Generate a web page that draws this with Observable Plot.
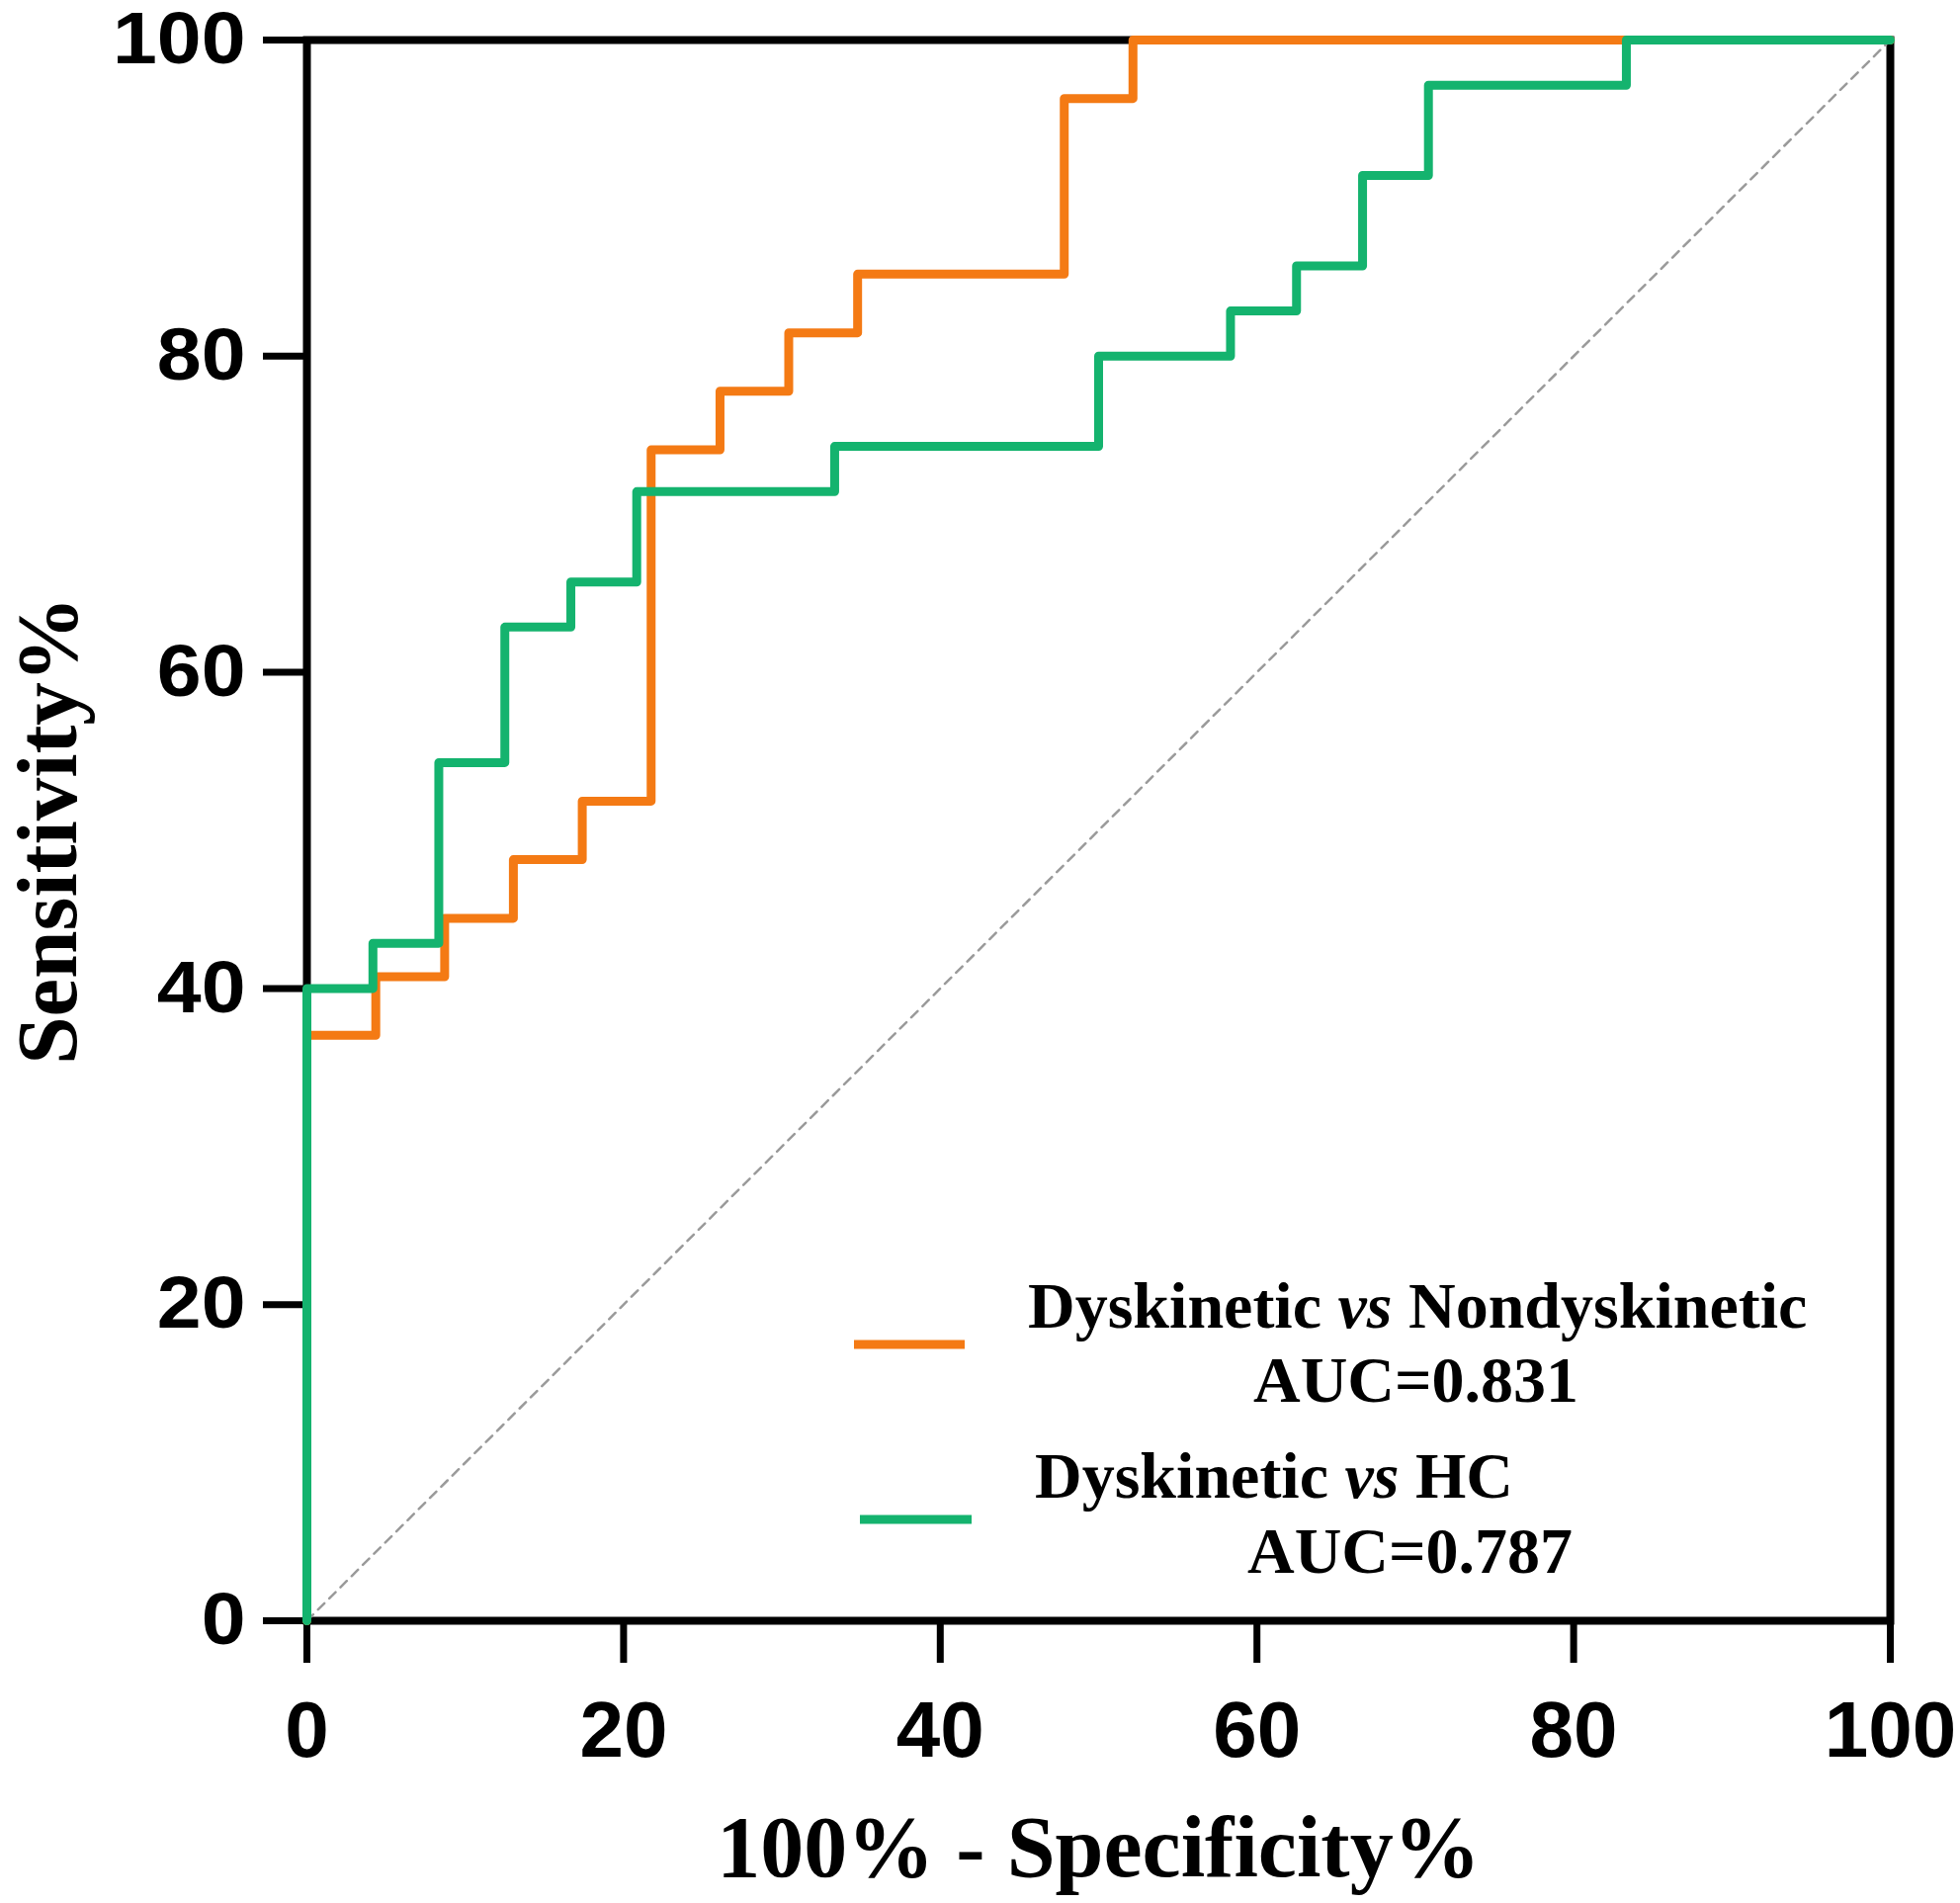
<!DOCTYPE html>
<html>
<head>
<meta charset="utf-8">
<script src="https://cdn.jsdelivr.net/npm/d3@7"></script>
<script src="https://cdn.jsdelivr.net/npm/@observablehq/plot@0.6"></script>
<style>
  html, body { margin: 0; padding: 0; background: #fff; }
  #chart svg { display: block; }
</style>
</head>
<body>
<div id="chart"></div>
<script>
// ---- Data ----
// Dyskinetic vs Nondyskinetic ROC (step-after vertices)
const orangeFpr = [0, 0, 4.35, 8.70, 13.04, 17.39, 21.74, 26.09, 30.43, 34.78, 47.83, 52.17, 100];
const orangeTpr = [0, 37.04, 40.74, 44.44, 48.15, 51.85, 74.07, 77.78, 81.48, 85.19, 96.30, 100, 100];
// Dyskinetic vs HC ROC (step-after vertices)
const greenFpr = [0, 0, 4.17, 8.33, 12.50, 16.67, 20.83, 33.33, 50.00, 58.33, 62.50, 66.67, 70.83, 83.33, 100];
const greenTpr = [0, 40.00, 42.86, 54.29, 62.86, 65.71, 71.43, 74.29, 80.00, 82.86, 85.71, 91.43, 97.14, 100, 100];
// chance line
const chance = [0, 100];
const xTicks = [0, 20, 40, 60, 80, 100];
const yTicks = [0, 20, 40, 60, 80, 100];
const seriesNames = ["Dyskinetic vs Nondyskinetic", "Dyskinetic vs HC"];
const seriesAUC = ["AUC=0.831", "AUC=0.787"];
const seriesColors = ["#F47A14", "#14B36E"];
const xTitle = "100% - Specificity%";
const yTitle = "Sensitivity%";

const orange = orangeFpr.map((x, i) => ({x, y: orangeTpr[i]}));
const green = greenFpr.map((x, i) => ({x, y: greenTpr[i]}));

const serif = "'Liberation Serif', 'Times New Roman', serif";
const sans = "'Liberation Sans', Arial, sans-serif";

const chart = Plot.plot({
  width: 1983,
  height: 1925,
  marginLeft: 310,
  marginRight: 71,
  marginTop: 40,
  marginBottom: 286,
  x: {domain: [0, 100]},
  y: {domain: [0, 100]},
  style: {fontFamily: sans, background: "white", overflow: "visible", color: "black"},
  marks: [
    Plot.axisY({ticks: yTicks, tickSize: 44, tickPadding: 18, strokeWidth: 7, fontSize: 74, fontWeight: "bold", label: null}),
    Plot.axisX({ticks: xTicks, tickSize: 43, tickPadding: 38, strokeWidth: 7, fontSize: 80, fontWeight: "bold", label: null}),
    Plot.frame({stroke: "black", strokeWidth: 8}),
    Plot.line(chance, {x: d => d, y: d => d, stroke: "#9a9a9a", strokeWidth: 2.5, strokeDasharray: "9,7"}),
    Plot.line(orange, {x: "x", y: "y", curve: "step-after", stroke: seriesColors[0], strokeWidth: 9}),
    Plot.line(green, {x: "x", y: "y", curve: "step-after", stroke: seriesColors[1], strokeWidth: 9}),
    Plot.text([xTitle], {text: d => d, frameAnchor: "bottom", dy: 258, lineAnchor: "bottom", textAnchor: "middle",
      fontFamily: serif, fontWeight: "bold", fontSize: 88, fill: "black"}),
    Plot.text([yTitle], {text: d => d, frameAnchor: "left", dx: -234, rotate: -90, lineAnchor: "bottom", textAnchor: "middle",
      fontFamily: serif, fontWeight: "bold", fontSize: 87, fill: "black"})
  ]
});
document.getElementById("chart").appendChild(chart);

const svg = d3.select(chart);
// slightly widen the y tick labels as in the reference
svg.selectAll('g[aria-label="y-axis tick label"] text').each(function() {
  const t = d3.select(this);
  t.attr("transform", (t.attr("transform") || "") + " scale(1.09,1)");
});

// ---- Legend (inside the plot area) ----
const leg = svg.append("g").attr("font-family", serif).attr("font-weight", "bold")
  .attr("font-size", 66).attr("fill", "black").attr("text-anchor", "start");
const legendLayout = [
  {lx1: 864, lx2: 976, ly: 1360, tx: 1040, ty: 1343, ax: 1268, ay: 1418},
  {lx1: 870, lx2: 983, ly: 1537, tx: 1047, ty: 1515, ax: 1262, ay: 1591}
];
seriesNames.forEach((name, i) => {
  const L = legendLayout[i];
  leg.append("line").attr("x1", L.lx1).attr("x2", L.lx2).attr("y1", L.ly).attr("y2", L.ly)
    .attr("stroke", seriesColors[i]).attr("stroke-width", 9);
  const parts = name.split(" vs ");
  const t = leg.append("text").attr("x", L.tx).attr("y", L.ty);
  t.append("tspan").text(parts[0] + " ");
  t.append("tspan").attr("font-style", "italic").text("vs");
  t.append("tspan").text(" " + parts[1]);
  leg.append("text").attr("x", L.ax).attr("y", L.ay).text(seriesAUC[i]);
});
</script>
</body>
</html>
